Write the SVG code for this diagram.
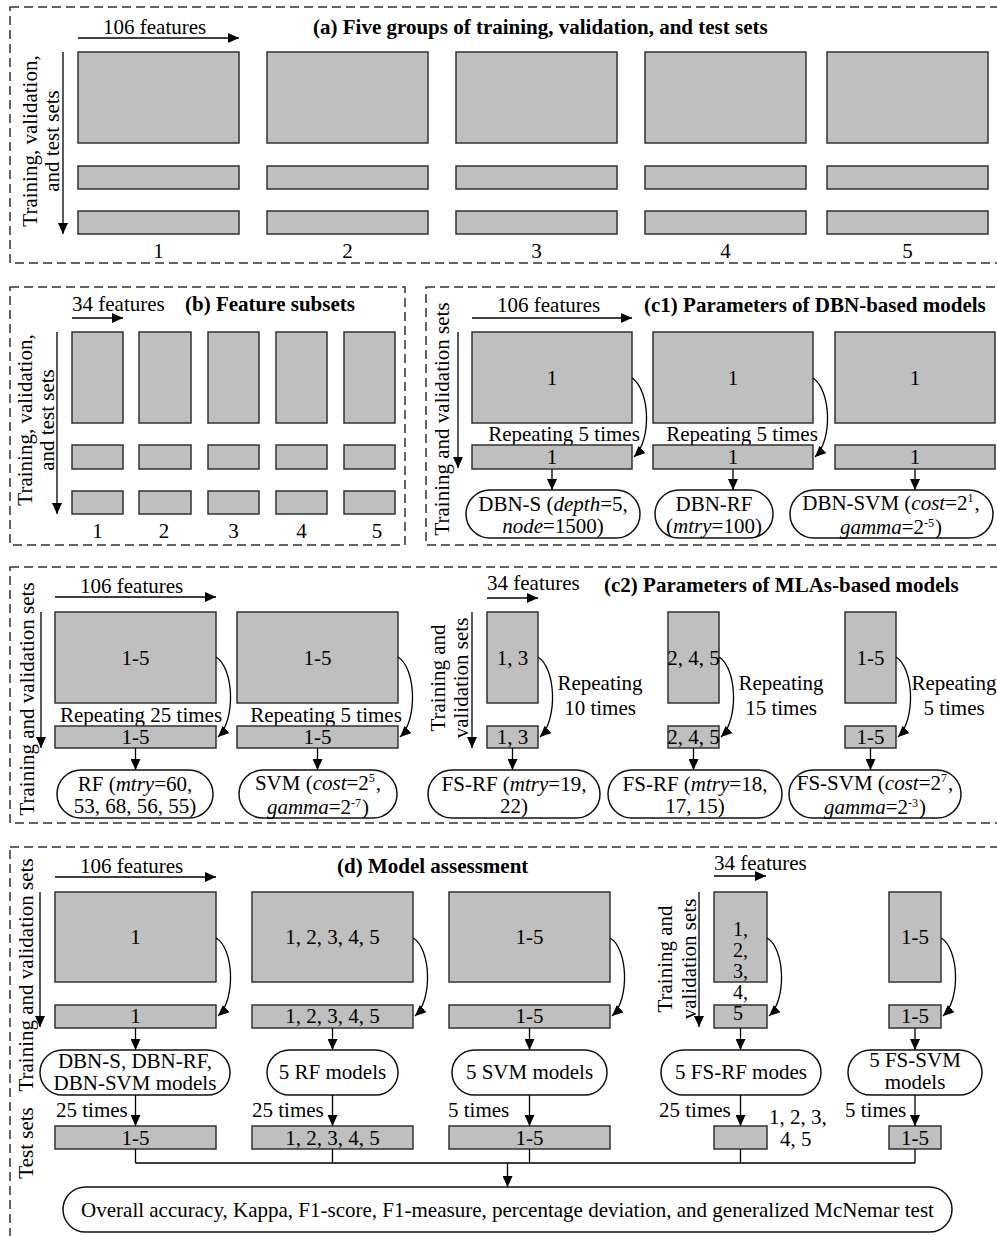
<svg xmlns="http://www.w3.org/2000/svg" width="997" height="1236" viewBox="0 0 997 1236">
<defs>
<marker id="ah" viewBox="0 0 11 10" refX="11" refY="5" markerWidth="11" markerHeight="10" markerUnits="userSpaceOnUse" orient="auto"><path d="M0,0 L11,5 L0,10 z" fill="#000"/></marker>
<style>
.fr{fill:none;stroke:#333;stroke-width:1.5;stroke-dasharray:9 5}
.bx{fill:#bfbfbf;stroke:#333;stroke-width:1.5}
.st{fill:#fff;stroke:#111;stroke-width:1.5}
.ar{fill:none;stroke:#000;stroke-width:1.3;marker-end:url(#ah)}
.ln{fill:none;stroke:#000;stroke-width:1.3}
text{font-family:"Liberation Serif","Times New Roman",serif;font-size:21px;fill:#000}
.m{text-anchor:middle}
.b{font-weight:bold}
.i{font-style:italic}
.sp{font-size:12px}
.s20{font-size:20px}
</style>
</defs>
<rect width="997" height="1236" fill="#fff"/>

<g id="panel-a">
<rect class="fr" x="10" y="7" width="992" height="256"/>
<text x="103" y="34">106 features</text>
<text class="b" x="313" y="34">(a) Five groups of training, validation, and test sets</text>
<text class="m" transform="translate(37,141) rotate(-90)"><tspan x="0" y="0">Training, validation,</tspan><tspan x="0" y="22">and test sets</tspan></text>
</g>
<g id="a-g1"><rect class="bx" x="78" y="52" width="161" height="91"/><rect class="bx" x="78" y="166" width="161" height="23"/><rect class="bx" x="78" y="211" width="161" height="23"/><text class="m" x="158.5" y="258">1</text></g>
<g id="a-g2"><rect class="bx" x="267" y="52" width="161" height="91"/><rect class="bx" x="267" y="166" width="161" height="23"/><rect class="bx" x="267" y="211" width="161" height="23"/><text class="m" x="347.5" y="258">2</text></g>
<g id="a-g3"><rect class="bx" x="456" y="52" width="161" height="91"/><rect class="bx" x="456" y="166" width="161" height="23"/><rect class="bx" x="456" y="211" width="161" height="23"/><text class="m" x="536.5" y="258">3</text></g>
<g id="a-g4"><rect class="bx" x="645" y="52" width="161" height="91"/><rect class="bx" x="645" y="166" width="161" height="23"/><rect class="bx" x="645" y="211" width="161" height="23"/><text class="m" x="725.5" y="258">4</text></g>
<g id="a-g5"><rect class="bx" x="827" y="52" width="161" height="91"/><rect class="bx" x="827" y="166" width="161" height="23"/><rect class="bx" x="827" y="211" width="161" height="23"/><text class="m" x="907.5" y="258">5</text></g>

<g id="panel-b">
<rect class="fr" x="10" y="287" width="395" height="258"/>
<text x="72" y="311">34 features</text>
<text class="b" x="185" y="311">(b) Feature subsets</text>
<text class="m" transform="translate(32,420) rotate(-90)"><tspan x="0" y="0">Training, validation,</tspan><tspan x="0" y="22">and test sets</tspan></text>
</g>
<g id="b-s1"><rect class="bx" x="72" y="332" width="51" height="91"/><rect class="bx" x="72" y="445" width="51" height="24"/><rect class="bx" x="72" y="491" width="51" height="23"/><text class="m" x="97.5" y="538">1</text></g>
<g id="b-s2"><rect class="bx" x="139" y="332" width="52" height="91"/><rect class="bx" x="139" y="445" width="52" height="24"/><rect class="bx" x="139" y="491" width="52" height="23"/><text class="m" x="164" y="538">2</text></g>
<g id="b-s3"><rect class="bx" x="208" y="332" width="51" height="91"/><rect class="bx" x="208" y="445" width="51" height="24"/><rect class="bx" x="208" y="491" width="51" height="23"/><text class="m" x="233.5" y="538">3</text></g>
<g id="b-s4"><rect class="bx" x="276" y="332" width="51" height="91"/><rect class="bx" x="276" y="445" width="51" height="24"/><rect class="bx" x="276" y="491" width="51" height="23"/><text class="m" x="301.5" y="538">4</text></g>
<g id="b-s5"><rect class="bx" x="344" y="332" width="51" height="91"/><rect class="bx" x="344" y="445" width="51" height="24"/><rect class="bx" x="344" y="491" width="51" height="23"/><text class="m" x="377" y="538">5</text></g>

<g id="panel-c1">
<rect class="fr" x="426" y="287" width="576" height="258"/>
<text x="497" y="312">106 features</text>
<text class="b" x="644" y="312">(c1) Parameters of DBN-based models</text>
<text class="m" transform="translate(449,419) rotate(-90)">Training and validation sets</text>
<text class="m" x="564" y="441">Repeating 5 times</text>
<text class="m" x="742" y="441">Repeating 5 times</text>
</g>
<g id="c1-train1"><rect class="bx" x="472" y="332" width="160" height="91"/><text class="m" x="552" y="385">1</text></g>
<g id="c1-val1"><rect class="bx" x="472" y="445" width="160" height="24"/><text class="m" x="552" y="464">1</text></g>
<g id="c1-train2"><rect class="bx" x="653" y="332" width="160" height="91"/><text class="m" x="733" y="385">1</text></g>
<g id="c1-val2"><rect class="bx" x="653" y="445" width="160" height="24"/><text class="m" x="733" y="464">1</text></g>
<g id="c1-train3"><rect class="bx" x="835" y="332" width="160" height="91"/><text class="m" x="915" y="385">1</text></g>
<g id="c1-val3"><rect class="bx" x="835" y="445" width="160" height="24"/><text class="m" x="915" y="464">1</text></g>
<g id="c1-dbns"><rect class="st" x="466" y="490" width="174" height="48" rx="24"/><text class="m" y="511"><tspan x="553">DBN-S (<tspan class="i">depth</tspan>=5,</tspan><tspan x="553" dy="22"><tspan class="i">node</tspan>=1500)</tspan></text></g>
<g id="c1-dbnrf"><rect class="st" x="655" y="490" width="118" height="48" rx="24"/><text class="m" y="511"><tspan x="714">DBN-RF</tspan><tspan x="714" dy="22">(<tspan class="i">mtry</tspan>=100)</tspan></text></g>
<g id="c1-dbnsvm"><rect class="st" x="790" y="490" width="203" height="48" rx="24"/><text class="m" y="510"><tspan x="891">DBN-SVM (<tspan class="i">cost</tspan>=2<tspan class="sp" dy="-8">1</tspan><tspan dy="8" dx="1">,</tspan></tspan><tspan x="891" y="534"><tspan class="i">gamma</tspan>=2<tspan class="sp" dy="-7">-5</tspan><tspan dy="7" dx="1">)</tspan></tspan></text></g>

<g id="panel-c2">
<rect class="fr" x="10" y="567" width="992" height="256"/>
<text x="80" y="593">106 features</text>
<text x="487" y="590">34 features</text>
<text class="b" x="604" y="592">(c2) Parameters of MLAs-based models</text>
<text class="m" transform="translate(34,699) rotate(-90)">Training and validation sets</text>
<text class="m" transform="translate(445,678) rotate(-90)"><tspan x="0" y="0">Training and</tspan><tspan x="0" y="23">validation sets</tspan></text>
<text class="m" x="141" y="722">Repeating 25 times</text>
<text class="m" x="326" y="722">Repeating 5 times</text>
<text class="m" y="690"><tspan x="600">Repeating</tspan><tspan x="600" dy="25">10 times</tspan></text>
<text class="m" y="690"><tspan x="781">Repeating</tspan><tspan x="781" dy="25">15 times</tspan></text>
<text class="m" y="690"><tspan x="954">Repeating</tspan><tspan x="954" dy="25">5 times</tspan></text>
</g>
<g id="c2-rf-train"><rect class="bx" x="55" y="612" width="161" height="91"/><text class="m" x="135.5" y="665">1-5</text></g>
<g id="c2-rf-val"><rect class="bx" x="55" y="726" width="161" height="22"/><text class="m" x="135.5" y="744">1-5</text></g>
<g id="c2-svm-train"><rect class="bx" x="237" y="612" width="161" height="91"/><text class="m" x="317.5" y="665">1-5</text></g>
<g id="c2-svm-val"><rect class="bx" x="237" y="726" width="161" height="22"/><text class="m" x="317.5" y="744">1-5</text></g>
<g id="c2-fs1-train"><rect class="bx" x="487" y="612" width="51" height="91"/><text class="m" x="512.5" y="665">1, 3</text></g>
<g id="c2-fs1-val"><rect class="bx" x="487" y="726" width="51" height="22"/><text class="m" x="512.5" y="744">1, 3</text></g>
<g id="c2-fs2-train"><rect class="bx" x="668" y="612" width="51" height="91"/><text class="m" x="693.5" y="665">2, 4, 5</text></g>
<g id="c2-fs2-val"><rect class="bx" x="668" y="726" width="51" height="22"/><text class="m" x="693.5" y="744">2, 4, 5</text></g>
<g id="c2-fs3-train"><rect class="bx" x="845" y="612" width="51" height="91"/><text class="m" x="870.5" y="665">1-5</text></g>
<g id="c2-fs3-val"><rect class="bx" x="845" y="726" width="51" height="22"/><text class="m" x="870.5" y="744">1-5</text></g>
<g id="c2-rf"><rect class="st" x="57" y="770" width="156" height="48" rx="24"/><text class="m" y="791"><tspan x="135">RF (<tspan class="i">mtry</tspan>=60,</tspan><tspan x="135" dy="22">53, 68, 56, 55)</tspan></text></g>
<g id="c2-svm"><rect class="st" x="239" y="770" width="158" height="48" rx="24"/><text class="m" y="790"><tspan x="318">SVM (<tspan class="i">cost</tspan>=2<tspan class="sp" dy="-8">5</tspan><tspan dy="8" dx="1">,</tspan></tspan><tspan x="318" y="814"><tspan class="i">gamma</tspan>=2<tspan class="sp" dy="-7">-7</tspan><tspan dy="7" dx="1">)</tspan></tspan></text></g>
<g id="c2-fsrf1"><rect class="st" x="428" y="770" width="172" height="48" rx="24"/><text class="m" y="791"><tspan x="514">FS-RF (<tspan class="i">mtry</tspan>=19,</tspan><tspan x="514" dy="22">22)</tspan></text></g>
<g id="c2-fsrf2"><rect class="st" x="608" y="770" width="174" height="48" rx="24"/><text class="m" y="791"><tspan x="695">FS-RF (<tspan class="i">mtry</tspan>=18,</tspan><tspan x="695" dy="22">17, 15)</tspan></text></g>
<g id="c2-fssvm"><rect class="st" x="789" y="770" width="172" height="48" rx="24"/><text class="m" y="790"><tspan x="875">FS-SVM (<tspan class="i">cost</tspan>=2<tspan class="sp" dy="-8">7</tspan><tspan dy="8" dx="1">,</tspan></tspan><tspan x="875" y="814"><tspan class="i">gamma</tspan>=2<tspan class="sp" dy="-7">-3</tspan><tspan dy="7" dx="1">)</tspan></tspan></text></g>

<g id="panel-d">
<rect class="fr" x="10" y="847" width="992" height="400"/>
<text x="80" y="873">106 features</text>
<text class="b" x="337" y="873">(d) Model assessment</text>
<text x="714" y="870">34 features</text>
<text class="m" transform="translate(33,975) rotate(-90)">Training and validation sets</text>
<text class="m" transform="translate(33,1143) rotate(-90)">Test sets</text>
<text class="m" transform="translate(672,959) rotate(-90)"><tspan x="0" y="0">Training and</tspan><tspan x="0" y="24">validation sets</tspan></text>
<text x="56" y="1117">25 times</text>
<text x="252" y="1117">25 times</text>
<text x="448" y="1117">5 times</text>
<text x="659" y="1117">25 times</text>
<text x="845" y="1117">5 times</text>
</g>
<g id="d-train1"><rect class="bx" x="55" y="892" width="161" height="90"/><text class="m" x="135.5" y="944">1</text></g>
<g id="d-val1"><rect class="bx" x="55" y="1005" width="161" height="23"/><text class="m" x="135.5" y="1023">1</text></g>
<g id="d-train2"><rect class="bx" x="252" y="892" width="161" height="90"/><text class="m" x="332.5" y="944">1, 2, 3, 4, 5</text></g>
<g id="d-val2"><rect class="bx" x="252" y="1005" width="161" height="23"/><text class="m" x="332.5" y="1023">1, 2, 3, 4, 5</text></g>
<g id="d-train3"><rect class="bx" x="449" y="892" width="161" height="90"/><text class="m" x="529.5" y="944">1-5</text></g>
<g id="d-val3"><rect class="bx" x="449" y="1005" width="161" height="23"/><text class="m" x="529.5" y="1023">1-5</text></g>
<g id="d-fs1"><rect class="bx" x="714" y="892" width="53" height="90"/><rect class="bx" x="714" y="1005" width="53" height="23"/><text class="s20" y="936"><tspan x="733">1,</tspan><tspan x="733" dy="21">2,</tspan><tspan x="733" dy="21">3,</tspan><tspan x="733" dy="21">4,</tspan><tspan x="733" dy="21">5</tspan></text></g>
<g id="d-train5"><rect class="bx" x="889" y="892" width="52" height="90"/><text class="m" x="915" y="944">1-5</text></g>
<g id="d-val5"><rect class="bx" x="889" y="1005" width="52" height="23"/><text class="m" x="915" y="1023">1-5</text></g>
<g id="d-m1"><rect class="st" x="40" y="1050" width="190" height="45" rx="22.5"/><text class="m" y="1068"><tspan x="135">DBN-S, DBN-RF,</tspan><tspan x="135" dy="22">DBN-SVM models</tspan></text></g>
<g id="d-m2"><rect class="st" x="267" y="1050" width="131" height="45" rx="22.5"/><text class="m" x="332.5" y="1079">5 RF models</text></g>
<g id="d-m3"><rect class="st" x="452" y="1050" width="155" height="45" rx="22.5"/><text class="m" x="529.5" y="1079">5 SVM models</text></g>
<g id="d-m4"><rect class="st" x="661" y="1050" width="160" height="45" rx="22.5"/><text class="m" x="741" y="1079">5 FS-RF modes</text></g>
<g id="d-m5"><rect class="st" x="848" y="1050" width="134" height="45" rx="22.5"/><text class="m" y="1067"><tspan x="915">5 FS-SVM</tspan><tspan x="915" dy="22">models</tspan></text></g>
<g id="d-test1"><rect class="bx" x="55" y="1126" width="161" height="23"/><text class="m" x="135.5" y="1145">1-5</text></g>
<g id="d-test2"><rect class="bx" x="252" y="1126" width="161" height="23"/><text class="m" x="332.5" y="1145">1, 2, 3, 4, 5</text></g>
<g id="d-test3"><rect class="bx" x="449" y="1126" width="161" height="23"/><text class="m" x="529.5" y="1145">1-5</text></g>
<g id="d-test4"><rect class="bx" x="714" y="1126" width="53" height="23"/><text y="1124"><tspan x="769">1, 2, 3,</tspan><tspan x="780" dy="22">4, 5</tspan></text></g>
<g id="d-test5"><rect class="bx" x="889" y="1126" width="52" height="23"/><text class="m" x="915" y="1145">1-5</text></g>
<g id="d-result"><rect class="st" x="63" y="1187" width="889" height="45" rx="22.5"/><text class="m" x="507.5" y="1217">Overall accuracy, Kappa, F1-score, F1-measure, percentage deviation, and generalized McNemar test</text></g>

<g id="connectors">
<path class="ar" d="M78,38 L239,38"/>
<path class="ar" d="M63,52 L63,234"/>
<path class="ar" d="M72,318 L123,318"/>
<path class="ar" d="M57,332 L57,514"/>
<path class="ar" d="M472,318 L632,318"/>
<path class="ar" d="M458,332 L458,468"/>
<path class="ar" d="M632,378 C650,390 652,440 634,457"/>
<path class="ar" d="M813,378 C831,390 833,440 815,457"/>
<path class="ar" d="M552,469 L552,490"/>
<path class="ar" d="M733,469 L733,490"/>
<path class="ar" d="M915,469 L915,490"/>
<path class="ar" d="M55,597 L216,597"/>
<path class="ar" d="M487,598 L538,598"/>
<path class="ar" d="M41,612 L41,748"/>
<path class="ar" d="M472,612 L472,748"/>
<path class="ar" d="M216,657 C234,668 236,720 218,737"/>
<path class="ar" d="M398,657 C416,668 418,720 400,737"/>
<path class="ar" d="M538,657 C556,668 558,720 540,737"/>
<path class="ar" d="M719,657 C737,668 739,720 721,737"/>
<path class="ar" d="M896,657 C914,668 916,720 898,737"/>
<path class="ar" d="M135.5,748 L135.5,770"/>
<path class="ar" d="M317.5,748 L317.5,770"/>
<path class="ar" d="M512.5,748 L512.5,770"/>
<path class="ar" d="M693.5,748 L693.5,770"/>
<path class="ar" d="M870.5,748 L870.5,770"/>
<path class="ar" d="M55,877 L216,877"/>
<path class="ar" d="M714,876 L766,876"/>
<path class="ar" d="M40,892 L40,1027"/>
<path class="ar" d="M699,892 L699,1027"/>
<path class="ar" d="M216,938 C234,948 236,1000 218,1016"/>
<path class="ar" d="M413,938 C431,948 433,1000 415,1016"/>
<path class="ar" d="M610,938 C628,948 630,1000 612,1016"/>
<path class="ar" d="M767,938 C785,948 787,1000 769,1016"/>
<path class="ar" d="M941,938 C959,948 961,1000 943,1016"/>
<path class="ar" d="M135.5,1028 L135.5,1050"/>
<path class="ar" d="M332.5,1028 L332.5,1050"/>
<path class="ar" d="M529.5,1028 L529.5,1050"/>
<path class="ar" d="M740.5,1028 L740.5,1050"/>
<path class="ar" d="M915,1028 L915,1050"/>
<path class="ar" d="M135.5,1095 L135.5,1126"/>
<path class="ar" d="M332.5,1095 L332.5,1126"/>
<path class="ar" d="M529.5,1095 L529.5,1126"/>
<path class="ar" d="M740.5,1095 L740.5,1126"/>
<path class="ar" d="M915,1095 L915,1126"/>
<path class="ln" d="M135.5,1149 V1163 M332.5,1149 V1163 M529.5,1149 V1163 M740.5,1149 V1163 M915,1149 V1163 M135.5,1163 H915"/>
<path class="ar" d="M507.5,1163 L507.5,1187"/>
</g>
</svg>
